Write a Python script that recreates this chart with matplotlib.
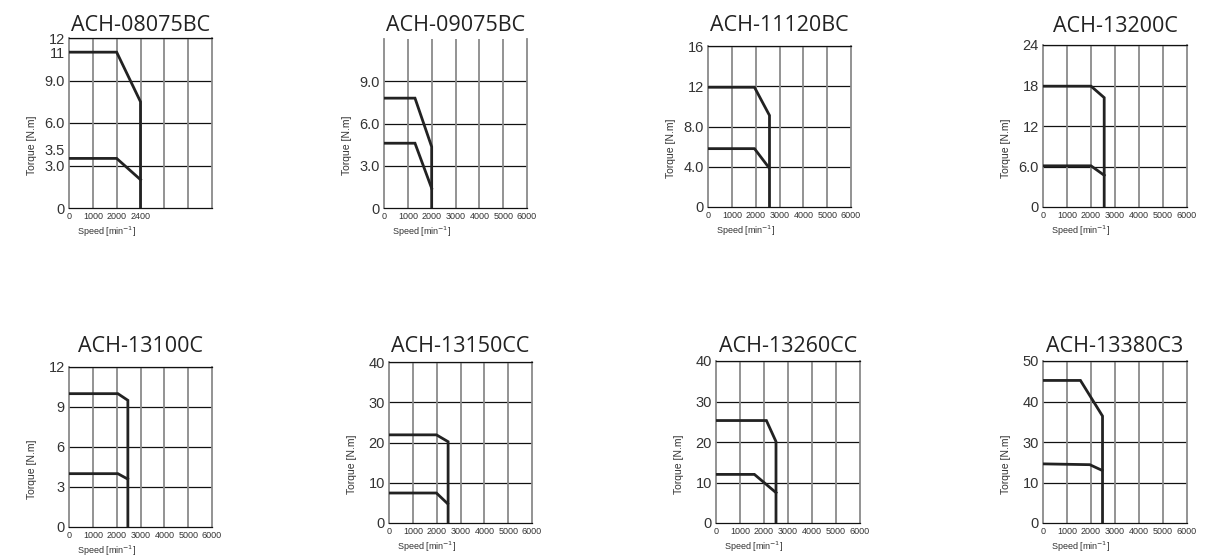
import matplotlib
matplotlib.use("Agg")
import matplotlib.pyplot as plt

# torque-speed curves
models = ["ACH-08075BC", "ACH-09075BC", "ACH-11120BC", "ACH-13200C",
          "ACH-13100C", "ACH-13150CC", "ACH-13260CC", "ACH-13380C3"]

peak_speed = [[0, 2000, 3000, 3000],
              [0, 1300, 2000, 2000],
              [0, 1950, 2580, 2580],
              [0, 2000, 2550, 2550],
              [0, 2050, 2470, 2470],
              [0, 1990, 2480, 2480],
              [0, 2100, 2500, 2500],
              [0, 1560, 2480, 2480]]
peak_torque = [[11, 11, 7.5, 0],
               [7.8, 7.8, 4.35, 0],
               [11.9, 11.9, 9.1, 0],
               [17.9, 17.9, 16.2, 0],
               [10.0, 10.0, 9.5, 0],
               [21.9, 21.9, 20.2, 0],
               [25.3, 25.3, 20.1, 0],
               [35.2, 35.2, 26.4, 0]]

rated_speed = [[0, 2000, 3000],
               [0, 1300, 2000],
               [0, 1950, 2560],
               [0, 2000, 2550],
               [0, 2050, 2460],
               [0, 1990, 2460],
               [0, 1600, 2500],
               [0, 1950, 2460]]
rated_torque = [[3.5, 3.5, 2.0],
                [4.6, 4.6, 1.4],
                [5.8, 5.8, 3.9],
                [6.1, 6.1, 4.7],
                [4.0, 4.0, 3.6],
                [7.45, 7.45, 4.8],
                [12.0, 12.0, 7.5],
                [14.6, 14.4, 13.0]]

y_max = [12, 12, 16, 24, 12, 40, 40, 40]
h_grid = [[3, 6, 9, 12], [3, 6, 9], [4, 8, 12, 16], [6, 12, 18, 24],
          [3, 6, 9, 12], [10, 20, 30, 40], [10, 20, 30, 40], [10, 20, 30, 40]]
y_ticks = [[0, 3, 3.5, 6, 9, 11, 12], [0, 3, 6, 9], [0, 4, 8, 12, 16],
           [0, 6, 12, 18, 24], [0, 3, 6, 9, 12], [0, 10, 20, 30, 40],
           [0, 10, 20, 30, 40], [0, 10, 20, 30, 40]]
y_ticklabels = [["0", "3.0", "3.5", "6.0", "9.0", "11", "12"],
                ["0", "3.0", "6.0", "9.0"],
                ["0", "4.0", "8.0", "12", "16"],
                ["0", "6.0", "12", "18", "24"],
                ["0", "3", "6", "9", "12"],
                ["0", "10", "20", "30", "40"],
                ["0", "10", "20", "30", "40"],
                ["0", "10", "30", "40", "50"]]
x_ticks = [0, 1000, 2000, 3000, 4000, 5000, 6000]
x_ticklabels_first = ["0", "1000", "2000", "2400", "", "", ""]

# axes boxes in pixels: left, top, right, bottom
boxes = [(69, 38, 212, 208), (384, 39, 527, 208), (708, 46, 851, 207),
         (1043, 45, 1187, 207), (69, 367, 212, 527), (389, 362, 532, 523),
         (716, 361, 860, 523), (1043, 361, 1187, 523)]
title_base = [31, 31, 31, 32, 352, 352, 352, 352]

W, H = 1217, 559
fig = plt.figure(figsize=(W / 100, H / 100), dpi=100)

for i, name in enumerate(models):
    l, t, r, b = boxes[i]
    ax = fig.add_axes([l / W, 1 - b / H, (r - l) / W, (b - t) / H])
    ax.set_xlim(0, 6000)
    ax.set_ylim(0, y_max[i])

    for v in h_grid[i]:
        ax.axhline(v, color="#111111", lw=0.9, zorder=1)
    for v in x_ticks[1:-1]:
        ax.axvline(v, color="#8a8a8a", lw=1.3, zorder=1)

    ax.plot(peak_speed[i], peak_torque[i], color="#222222", lw=2.0,
            solid_joinstyle="miter", zorder=3)
    ax.plot(rated_speed[i], rated_torque[i], color="#222222", lw=2.0,
            solid_joinstyle="miter", zorder=3)

    for s in ["left", "right"]:
        ax.spines[s].set_color("#8a8a8a")
        ax.spines[s].set_linewidth(1.3)
    for s in ["top", "bottom"]:
        ax.spines[s].set_color("#111111")
        ax.spines[s].set_linewidth(0.9)
    if i == 1:
        ax.spines["top"].set_visible(False)

    ax.set_xticks(x_ticks)
    if i == 0:
        ax.set_xticklabels(x_ticklabels_first)
    else:
        ax.set_xticklabels([str(x) for x in x_ticks])
    ax.set_yticks(y_ticks[i])
    ax.set_yticklabels(y_ticklabels[i])
    ax.tick_params(axis="x", length=0, pad=3, labelsize=6.5, labelcolor="#333333")
    ax.tick_params(axis="y", length=0, pad=3, labelsize=10.5, labelcolor="#333333")
    for lab in ax.get_xticklabels() + ax.get_yticklabels():
        lab.set_fontfamily("Liberation Sans")
    if i == 0:
        # 3.5 sits above its line so it clears the 3.0 label
        for lab in ax.get_yticklabels():
            if lab.get_text() == "3.5":
                lab.set_verticalalignment("bottom")

    fig.text((l + r) / 2 / W, 1 - title_base[i] / H, name, ha="center",
             va="baseline", fontsize=15.5, family="Open Sans", color="#222222")
    fig.text((l + 8) / W, 1 - (b + 24) / H, "Speed [min$^{-1}$]", ha="left",
             va="center", fontsize=6.5, family="Liberation Sans", color="#333333")
    fig.text((l - 37) / W, 1 - ((t + b) / 2 + 22) / H, "Torque [N.m]",
             ha="center", va="center", rotation=90, fontsize=7.5,
             family="Liberation Sans", color="#333333")

fig.savefig("out.png", dpi=100)
